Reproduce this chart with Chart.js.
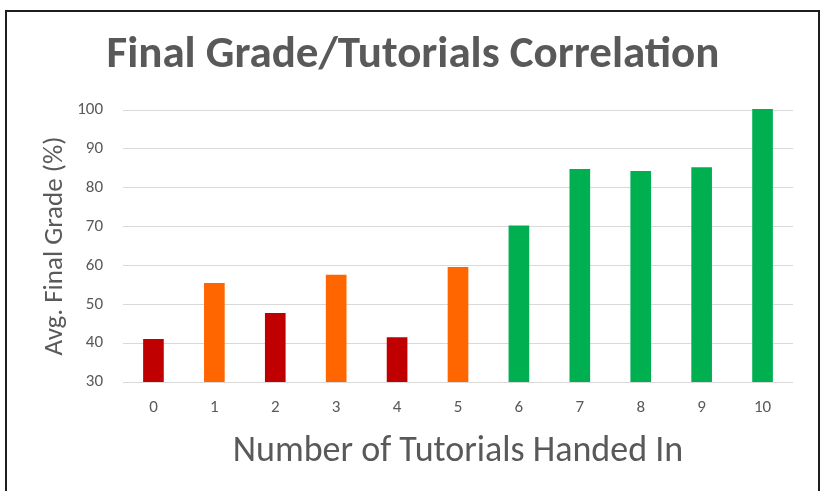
<!DOCTYPE html>
<html>
<head>
<meta charset="utf-8">
<title>Final Grade/Tutorials Correlation</title>
<script src="https://cdn.jsdelivr.net/npm/chart.js@4"></script>
<style>
  html, body { margin: 0; padding: 0; background: #fff; }
  .wrap { position: relative; width: 825px; height: 491px; overflow: hidden; }
  .frame {
    position: absolute; left: 5px; top: 10px; width: 811px; height: 520px;
    border: 2px solid #1e1e1e; pointer-events: none;
  }
</style>
</head>
<body>
<div class="wrap">
  <canvas id="gradeChart" width="825" height="491"></canvas>
  <div class="frame"></div>
</div>
<script>
const tutorials = ['0', '1', '2', '3', '4', '5', '6', '7', '8', '9', '10'];
const avgGrade = [41.0, 55.4, 47.7, 57.5, 41.4, 59.5, 70.2, 84.7, 84.2, 85.2, 100.2];
const barColors = ['#C00000', '#FF6600', '#C00000', '#FF6600', '#C00000', '#FF6600',
                   '#00B050', '#00B050', '#00B050', '#00B050', '#00B050'];
const yMin = 30;
const yMax = 100;
const yStep = 10;

const textGray = '#595959';
const fontFamily = "Carlito, 'Open Sans', sans-serif";

const ctx = document.getElementById('gradeChart').getContext('2d');
const chart = new Chart(ctx, {
  type: 'bar',
  data: {
    labels: tutorials,
    datasets: [{
      label: 'Avg. Final Grade',
      data: avgGrade,
      backgroundColor: barColors,
      borderWidth: 0,
      barThickness: 20,
      clip: { left: 0, top: 3, right: 0, bottom: 0 }
    }]
  },
  options: {
    responsive: false,
    animation: false,
    layout: {
      padding: { top: 12, left: 33, right: 32, bottom: 0 }
    },
    plugins: {
      legend: { display: false },
      tooltip: { enabled: false },
      title: {
        display: true,
        text: 'Final Grade/Tutorials Correlation',
        color: textGray,
        font: { family: fontFamily, size: 45, weight: 'bold' },
        padding: { top: 17, bottom: 27 }
      }
    },
    scales: {
      x: {
        grid: { display: false, drawTicks: false },
        border: { display: false },
        ticks: {
          color: textGray,
          font: { family: fontFamily, size: 17 },
          padding: 16
        },
        title: {
          display: true,
          text: 'Number of Tutorials Handed In',
          color: textGray,
          font: { family: fontFamily, size: 36 },
          padding: { top: 0, bottom: 17 }
        },
        afterFit(scale) { scale.height = 109; }
      },
      y: {
        min: yMin,
        max: yMax,
        grid: { color: '#d9d9d9', lineWidth: 1, drawTicks: false },
        border: { display: false },
        ticks: {
          stepSize: yStep,
          color: textGray,
          font: { family: fontFamily, size: 17 },
          padding: 20
        },
        title: {
          display: true,
          text: 'Avg. Final Grade (%)',
          color: textGray,
          font: { family: fontFamily, size: 27 },
          padding: { top: 6, bottom: 0 }
        },
        afterFit(scale) { scale.width = 90; }
      }
    }
  }
});
</script>
</body>
</html>
